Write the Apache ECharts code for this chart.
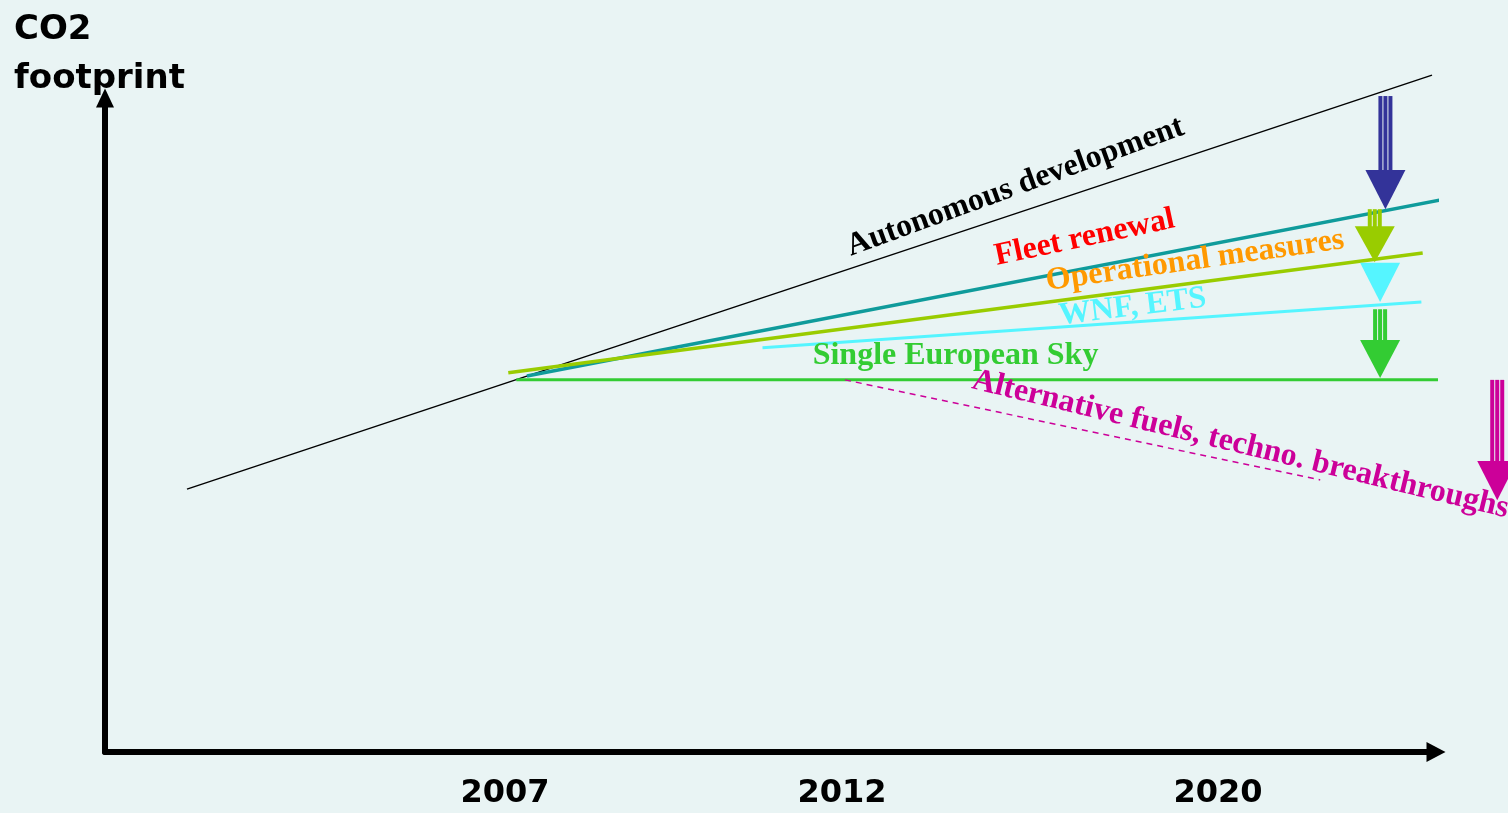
<!DOCTYPE html>
<html>
<head>
<meta charset="utf-8">
<title>CO2 footprint</title>
<script src="https://cdn.jsdelivr.net/npm/echarts@6/dist/echarts.min.js"></script>
<style>
  html, body { margin: 0; padding: 0; background: #e9f4f4; }
  #chart { width: 1508px; height: 813px; }
</style>
</head>
<body>
<div id="chart"></div>
<script>
// time axis runs 0..100, CO2 index 0..100 (conceptual diagram)
const yearTicks = [30.05, 55.37, 83.62];
const yearLabels = ['2007', '2012', '2020'];

// scenario lines: [x, y] start and end points
const autonomous = [[6.16, 40.2], [99.7, 103.5]];
const fleetRenewal = [[31.7, 57.5], [100.8, 84.6]];
const operational = [[30.3, 58.0], [99.0, 76.3]];
const wnfEts = [[49.4, 61.8], [98.9, 68.8]];
const singleSky = [[30.9, 56.9], [100.5, 56.9]];
const altFuels = [[55.6, 56.9], [91.3, 41.6]];

// reduction arrows: [x, shaftTop, headBase, tip]
const arrowNames = ['fleet', 'operational', 'wnf', 'ses', 'alt'];
const arrowValues = [
    [96.2, 100.3, 89.0, 83.0],
    [95.4, 83.0, 80.4, 74.9],
    [95.8, 74.8, 74.8, 68.8],
    [95.8, 67.7, 63.0, 57.2],
    [104.6, 56.9, 44.5, 38.5]
];

// line labels: text, anchor [x, y], rotation
const labelTexts = ['Autonomous development', 'Fleet renewal', 'Operational measures',
    'WNF, ETS', 'Single European Sky', 'Alternative fuels, techno. breakthroughs'];
const labelAnchors = [[68.4, 86.4], [73.6, 78.6], [81.9, 75.1], [77.2, 68.0], [63.9, 60.6], [85.3, 47.0]];
const labelAngles = [20, 12, 8, 7, 0, -13.6];

const colors = {
    autonomous: '#000000',
    fleet: '#0f9b9b',
    operational: '#99cc00',
    wnf: '#55f5ff',
    ses: '#33cc33',
    alt: '#cc0099',
    arrowFleet: '#333399'
};
const labelColors = ['#000000', '#ff0000', '#ff9900', '#55f5ff', '#33cc33', '#cc0099'];
const arrowColors = [colors.arrowFleet, colors.operational, colors.wnf, colors.ses, colors.alt];

const chart = echarts.init(document.getElementById('chart'));

function lineSeries(data, color, width, type) {
    return {
        type: 'line',
        data: data,
        symbol: 'none',
        clip: false,
        silent: true,
        lineStyle: { color: color, width: width, type: type || 'solid' },
        z: 2
    };
}

// arrow = striped shaft + triangle head
function renderArrow(params, api) {
    const x = api.value(0);
    const top = api.coord([x, api.value(1)]);
    const base = api.coord([x, api.value(2)]);
    const tip = api.coord([x, api.value(3)]);
    const color = arrowColors[params.dataIndex];
    const children = [];
    if (base[1] - top[1] > 1) {
        [-5, 0, 5].forEach(off => {
            children.push({
                type: 'rect',
                shape: { x: top[0] + off - 2, y: top[1], width: 4, height: base[1] - top[1] + 1 },
                style: { fill: color }
            });
        });
    }
    children.push({
        type: 'polygon',
        shape: { points: [[base[0] - 20, base[1]], [base[0] + 20, base[1]], [tip[0], tip[1]]] },
        style: { fill: color }
    });
    return { type: 'group', children: children };
}

const option = {
    backgroundColor: '#e9f4f4',
    animation: false,
    title: {
        text: 'CO2\nfootprint',
        left: 9,
        top: 1,
        textStyle: {
            fontFamily: 'DejaVu Sans',
            fontWeight: 'bold',
            fontSize: 34,
            lineHeight: 49,
            color: '#000'
        }
    },
    grid: { left: 105, right: 72, top: 98, bottom: 61 },
    xAxis: {
        type: 'value',
        min: 0,
        max: 100,
        axisLine: {
            show: true,
            symbol: ['none', 'triangle'],
            symbolSize: [20, 19],
            lineStyle: { color: '#000', width: 6 }
        },
        axisTick: { show: false },
        splitLine: { show: false },
        axisLabel: {
            customValues: yearTicks,
            margin: 26,
            fontFamily: 'DejaVu Sans',
            fontWeight: 'bold',
            fontSize: 32,
            color: '#000',
            formatter: function (v) {
                let best = 0;
                yearTicks.forEach((t, i) => {
                    if (Math.abs(t - v) < Math.abs(yearTicks[best] - v)) best = i;
                });
                return yearLabels[best];
            }
        }
    },
    yAxis: {
        type: 'value',
        min: 0,
        max: 100,
        axisLine: {
            show: true,
            symbol: ['none', 'triangle'],
            symbolSize: [18, 19],
            lineStyle: { color: '#000', width: 6 }
        },
        axisTick: { show: false },
        axisLabel: { show: false },
        splitLine: { show: false }
    },
    series: [
        lineSeries(autonomous, colors.autonomous, 1.5),
        lineSeries(fleetRenewal, colors.fleet, 3.5),
        lineSeries(operational, colors.operational, 3.5),
        lineSeries(wnfEts, colors.wnf, 3),
        lineSeries(singleSky, colors.ses, 3),
        lineSeries(altFuels, colors.alt, 1.5, [6, 5]),
        {
            type: 'custom',
            name: 'arrows',
            renderItem: renderArrow,
            data: arrowValues.map((v, i) => ({ name: arrowNames[i], value: v })),
            clip: false,
            silent: true,
            z: 3
        },
        {
            type: 'scatter',
            symbolSize: 0,
            silent: true,
            clip: false,
            z: 4,
            itemStyle: { opacity: 1 },
            data: labelTexts.map((t, i) => ({
                value: labelAnchors[i],
                label: {
                    show: true,
                    position: 'inside',
                    formatter: t,
                    rotate: labelAngles[i],
                    color: labelColors[i],
                    opacity: 1,
                    fontFamily: "'Liberation Serif', 'Times New Roman', serif",
                    fontWeight: 'bold',
                    fontSize: 32
                }
            }))
        }
    ]
};

chart.setOption(option);

window.addEventListener('resize', () => chart.resize());
</script>
</body>
</html>
